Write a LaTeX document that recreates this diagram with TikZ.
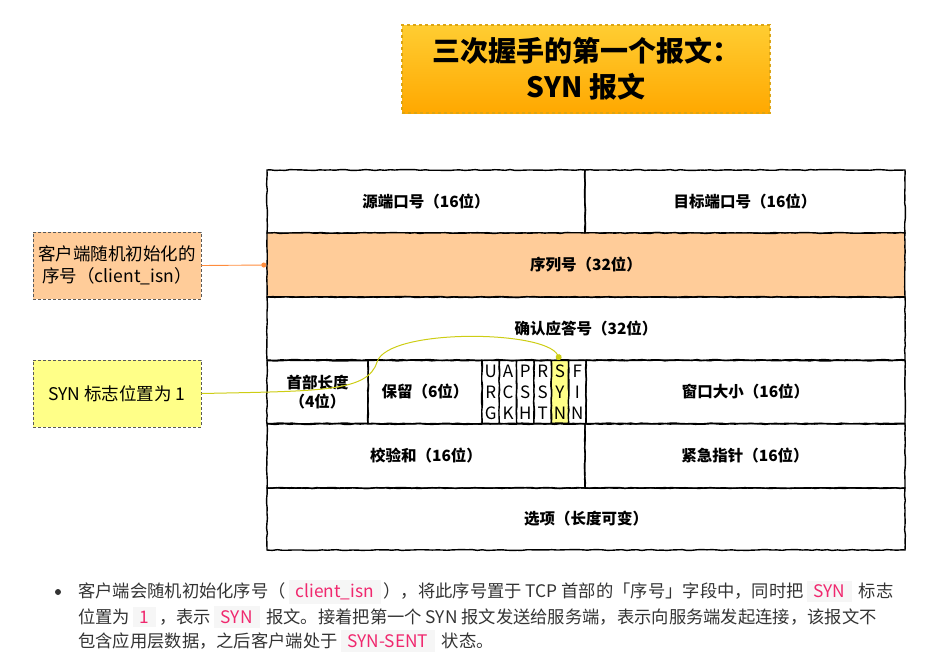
\documentclass[tikz,border=0pt]{standalone}
\usepackage{fontspec}
\usepackage{xcolor}
\setmainfont{Noto Sans CJK SC}
\usetikzlibrary{shapes,arrows,arrows.meta,positioning,calc,shadows}
\usetikzlibrary{decorations.pathmorphing}
\definecolor{seqorange}{RGB}{255,204,153}
\definecolor{synyellow}{RGB}{255,255,136}
\definecolor{titletop}{RGB}{255,205,50}
\definecolor{titlebot}{RGB}{255,168,0}
\definecolor{titleedge}{RGB}{220,165,20}
\definecolor{isnline}{RGB}{255,140,60}
\definecolor{synline}{RGB}{205,205,20}
\definecolor{codepink}{RGB}{240,40,110}
\definecolor{codebg}{RGB}{246,246,246}
\definecolor{bodytext}{RGB}{51,51,51}
\newcommand{\code}[1]{{\setlength{\fboxsep}{4pt}\colorbox{codebg}{\,\textcolor{codepink}{#1}\,}}}

\begin{document}
\begin{tikzpicture}[x=1pt,y=-1pt,
    cell/.style={draw, line width=1.4pt, decorate,
      decoration={random steps, segment length=5pt, amplitude=0.45pt},
      inner sep=0pt, align=center, font=\bfseries\fontsize{15.5}{19}\selectfont},
    flag/.style={cell, minimum width=17.3pt, minimum height=63pt, font=\fontsize{17}{21}\selectfont},
    note/.style={draw=gray!70!black, dash pattern=on 3pt off 2pt, line width=0.8pt,
      minimum width=168pt, minimum height=67pt, align=center,
      font=\fontsize{17.5}{22}\selectfont},
    textline/.style={anchor=west, inner sep=0pt, text=bodytext, font=\fontsize{17.3}{20}\selectfont}]
    \pgfmathsetseed{11}
    \useasboundingbox (0,0) rectangle (941,665);

    % title
    \node[draw=titleedge, dashed, line width=1.5pt, top color=titletop, bottom color=titlebot,
      minimum width=368pt, minimum height=88pt, align=center,
      font=\bfseries\fontsize{28}{36}\selectfont] (title) at (586,69) {三次握手的第一个报文：\\SYN 报文};

    % header cells
    \node[cell, minimum width=318pt, minimum height=63pt] (sport) at (426,201.5) {源端口号（16位）};
    \node[cell, minimum width=320pt, minimum height=63pt] (dport) at (745,201.5) {目标端口号（16位）};
    \node[cell, fill=seqorange, minimum width=638pt, minimum height=64pt] (seq) at (586,265) {序列号（32位）};
    \node[cell, minimum width=638pt, minimum height=63pt] (ack) at (586,328.5) {确认应答号（32位）};
    \node[cell, minimum width=101pt, minimum height=63pt] (hlen) at (317.5,392) {首部长度\\（4位）};
    \node[cell, minimum width=114pt, minimum height=63pt] (resv) at (425,392) {保留（6位）};
    \foreach \name/\cx/\txt/\col in {urg/490.7/U\\R\\G/white, ackf/508/A\\C\\K/white,
        psh/525.3/P\\S\\H/white, rst/542.7/R\\S\\T/white,
        syn/560/S\\Y\\N/synyellow, fin/577.3/F\\I\\N/white}
      \node[flag, fill=\col] (\name) at (\cx,392) {\txt};
    \node[cell, minimum width=319pt, minimum height=63pt] (win) at (745.5,392) {窗口大小（16位）};
    \node[cell, minimum width=318pt, minimum height=64pt] (csum) at (426,456) {校验和（16位）};
    \node[cell, minimum width=320pt, minimum height=64pt] (urgp) at (745,456) {紧急指针（16位）};
    \node[cell, minimum width=638pt, minimum height=62pt] (opts) at (586,519) {选项（长度可变）};

    % side notes
    \node[note, fill=seqorange] (isnnote) at (117,265.5) {客户端随机初始化的\\序号（client\_isn）};
    \node[note, fill=synyellow] (synnote) at (117,393.5) {SYN 标志位置为 1};
    \draw[isnline, line width=0.9pt, -{Circle[length=5pt]}] (isnnote.east) -- (seq.west);
    \draw[synline, line width=1pt, -{Circle[length=6pt]}] (synnote.east)
      .. controls (320,391) and (368,392) .. (377,362)
      .. controls (388,328) and (545,330) .. (syn.north);

    % description
    \fill[bodytext] (58,592) circle (3pt);
    \node[textline] (line1) at (78,592) {客户端会随机初始化序号（\,\code{client\_isn}\,），将此序号置于 TCP 首部的「序号」字段中，同时把\,\code{SYN}\, 标志};
    \node[textline] (line2) at (78,617) {位置为\,\code{1}\,，表示\,\code{SYN}\, 报文。接着把第一个 SYN 报文发送给服务端，表示向服务端发起连接，该报文不};
    \node[textline] (line3) at (78,641) {包含应用层数据，之后客户端处于\,\code{SYN-SENT}\, 状态。};
\end{tikzpicture}
\end{document}
